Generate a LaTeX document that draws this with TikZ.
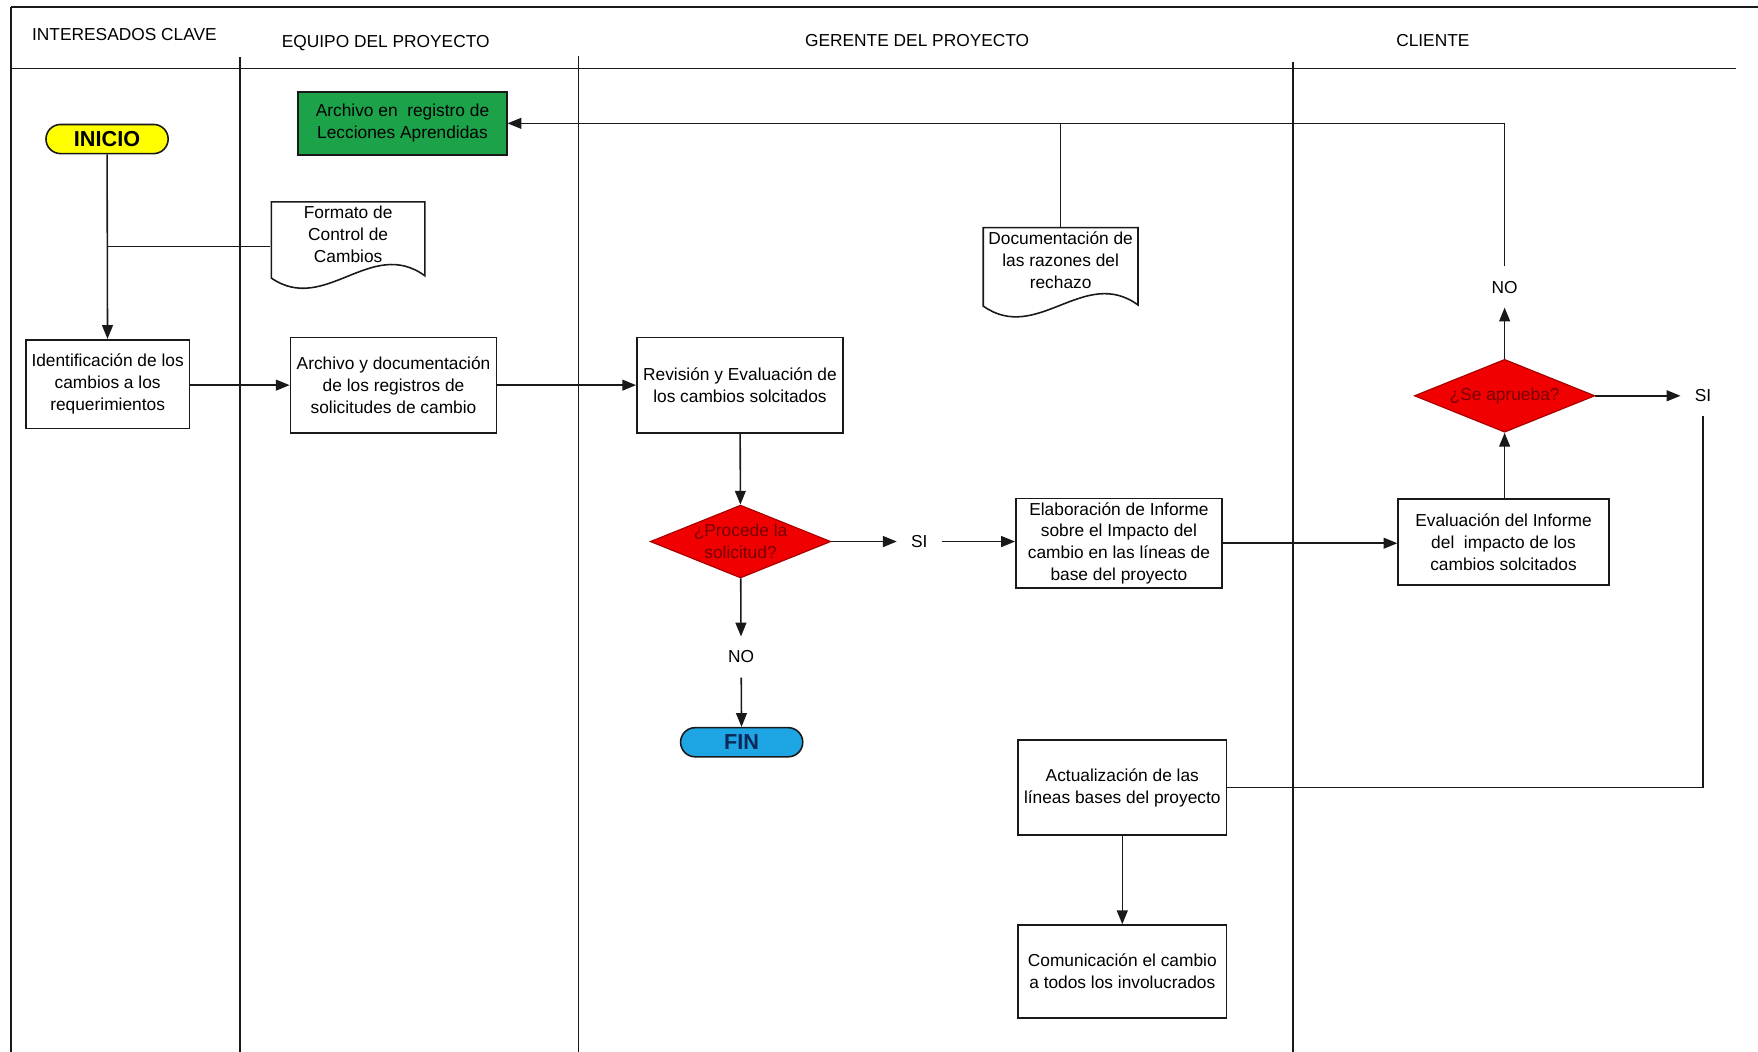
\documentclass[tikz,border=0pt]{standalone}
\usepackage{fontspec}
\setmainfont{Liberation Sans}
\usetikzlibrary{shapes.geometric,arrows.meta}
\definecolor{linec}{RGB}{25,25,25}
\definecolor{inifill}{RGB}{255,255,0}
\definecolor{greenfill}{RGB}{28,163,74}
\definecolor{redfill}{RGB}{240,0,0}
\definecolor{bluefill}{RGB}{30,165,228}
\definecolor{redtext}{RGB}{120,0,0}
\definecolor{bluetext}{RGB}{10,40,90}
\newcommand\diagfont{\fontsize{8.8}{11}\selectfont}
\begin{document}
\begin{tikzpicture}[x=0.02cm,y=-0.02cm,
  lane/.style={draw=linec,line width=0.8pt},
  hdr/.style={font=\diagfont,inner sep=0pt},
  box/.style={draw=linec,line width=0.8pt,fill=white,align=center,font=\diagfont,inner sep=2pt},
  doctext/.style={align=center,font=\diagfont,inner sep=0pt,minimum width=2.76cm,minimum height=1.16cm},
  docshape/.style={draw=linec,line width=0.8pt,fill=white},
  term/.style={draw=linec,line width=0.8pt,rounded corners=0.26cm,minimum width=2.18cm,minimum height=0.52cm,inner sep=0pt,font=\fontsize{11}{13}\selectfont\bfseries},
  dec/.style={diamond,aspect=2.44,draw=redfill!70!black,line width=0.6pt,fill=redfill,minimum width=3.22cm,minimum height=1.30cm,inner sep=0pt,align=center,font=\diagfont,text=redtext},
  lbl/.style={font=\diagfont,inner sep=0.25cm},
  arr/.style={draw=linec,line width=0.8pt,-{Triangle[length=7pt,width=5.5pt]}},
  con/.style={draw=linec,line width=0.8pt}
]
\useasboundingbox (0,0) rectangle (1568,938);
% frame and lanes
\draw[lane] (10,6) -- (1568,6);
\draw[lane] (10,6) -- (10,938);
\draw[lane] (10,61) -- (1548,61);
\draw[lane] (214,51) -- (214,938);
\draw[lane] (516,50) -- (516,938);
\draw[lane] (1153,55) -- (1153,938);
% headers
\node[hdr] (h1) at (111,31) {INTERESADOS CLAVE};
\node[hdr] (h2) at (344,38) {EQUIPO DEL PROYECTO};
\node[hdr] (h3) at (818,36) {GERENTE DEL PROYECTO};
\node[hdr] (h4) at (1278,36) {CLIENTE};
% documents
\path[docshape] (242,180) -- (379,180) -- (379,246) .. controls (331,211) and (290,281) .. (242,248) -- cycle;
\node[doctext] (fmt) at (310.5,209) {Formato de\\Control de\\Cambios};
\path[docshape] (877,203) -- (1015,203) -- (1015,272) .. controls (967,237) and (925,307) .. (877,273) -- cycle;
\node[doctext] (raz) at (946,232) {Documentación de\\las razones del\\rechazo};
% nodes
\node[term,fill=inifill] (inicio) at (95.5,124) {INICIO};
\node[box,fill=greenfill,minimum width=3.72cm,minimum height=1.12cm] (green) at (359,110) {Archivo en\ \ registro de\\Lecciones Aprendidas};
\node[box,minimum width=2.92cm,minimum height=1.58cm] (ident) at (96,342.5) {Identificación de los\\cambios a los\\requerimientos};
\node[box,minimum width=3.68cm,minimum height=1.70cm] (archdoc) at (351,343.5) {Archivo y documentación\\de los registros de\\solicitudes de cambio};
\node[box,minimum width=3.68cm,minimum height=1.70cm] (rev) at (660,343.5) {Revisión y Evaluación de\\los cambios solcitados};
\node[dec] (d1) at (660.5,483) {¿Procede la\\solicitud?};
\node[lbl] (si1) at (820,483) {SI};
\node[lbl] (no1) at (661,586) {NO};
\node[term,fill=bluefill,text=bluetext] (fin) at (661.5,662) {FIN};
\node[box,minimum width=3.68cm,minimum height=1.58cm] (elab) at (998,484.5) {Elaboración de Informe\\sobre el Impacto del\\cambio en las líneas de\\base del proyecto};
\node[box,minimum width=3.76cm,minimum height=1.54cm] (evalinf) at (1341,483.5) {Evaluación del Informe\\del\ \ impacto de los\\cambios solcitados};
\node[dec] (d2) at (1342,353) {¿Se aprueba?};
\node[lbl] (no2) at (1342,256) {NO};
\node[lbl] (si2) at (1519,353) {SI};
\node[box,minimum width=3.72cm,minimum height=1.70cm] (actual) at (1001,702.5) {Actualización de las\\líneas bases del proyecto};
\node[box,minimum width=3.72cm,minimum height=1.66cm] (comun) at (1001,866.5) {Comunicación el cambio\\a todos los involucrados};
\coordinate (j1) at (95.5,220);
% connectors
\draw[arr] (inicio) -- (ident);
\draw[con] (j1) -- (j1 -| fmt.west);
\draw[arr] (ident.east |- archdoc.west) -- (archdoc.west);
\draw[arr] (archdoc) -- (rev);
\draw[arr] (rev) -- (d1);
\draw[arr] (d1) -- (si1);
\draw[arr] (si1) -- (si1 -| elab.west);
\draw[arr] (d1) -- (no1);
\draw[arr] (no1) -- (fin);
\draw[arr] (elab.east) -- (elab.east -| evalinf.west);
\draw[arr] (evalinf.north -| d2.south) -- (d2.south);
\draw[arr] (d2) -- (no2);
\draw[arr] (no2) -- (no2 |- green.east) -- (green.east);
\draw[con] (raz.north) -- (raz.north |- green.east);
\draw[arr] (d2.east) -- (si2.west);
\draw[con] (si2) -- (si2 |- actual.east) -- (actual.east);
\draw[arr] (actual) -- (comun);
\end{tikzpicture}
\end{document}
